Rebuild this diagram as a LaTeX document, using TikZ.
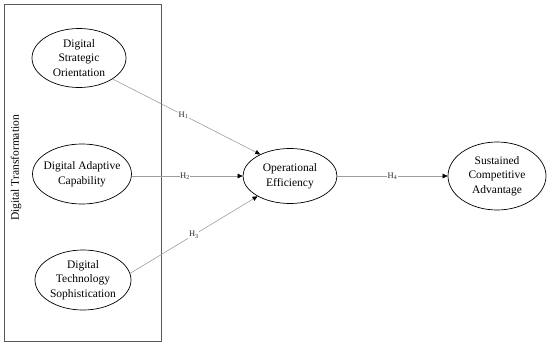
\documentclass[tikz,border=0pt]{standalone}
\usepackage{fontspec}
\setmainfont{Liberation Serif}
\usetikzlibrary{shapes.geometric,arrows.meta}
\begin{document}
\begin{tikzpicture}[x=1pt,y=-1pt,
  construct/.style={draw=black,line width=0.7pt,ellipse,inner xsep=-20pt,inner ysep=-10pt,align=center,
    font=\fontsize{11.5}{14.5}\selectfont},
  path/.style={draw=black!38,line width=0.6pt,-{Triangle[length=5pt,width=4.5pt,color=black]}},
  hlabel/.style={fill=white,inner sep=0.6pt,text=black!85,font=\fontsize{8.5}{10}\selectfont}]
\useasboundingbox (0,0) rectangle (550,346);
\node[draw=black!65,line width=0.9pt,minimum width=157pt,minimum height=337pt,inner sep=0pt] (box) at (82.5,172.5) {};
\node[rotate=90,font=\fontsize{11.5}{14}\selectfont] (dt) at (16,168) {Digital Transformation};
\node[construct,minimum width=94pt,minimum height=59pt] (dso) at (79,58) {Digital\\Strategic\\Orientation};
\node[construct,minimum width=99pt,minimum height=60pt] (dac) at (82,174) {Digital Adaptive\\Capability};
\node[construct,minimum width=96pt,minimum height=60pt] (dts) at (83,280) {Digital\\Technology\\Sophistication};
\node[construct,minimum width=94pt,minimum height=55pt] (oe) at (290,176) {Operational\\Efficiency};
\node[construct,minimum width=98pt,minimum height=68pt] (sca) at (497,176) {Sustained\\Competitive\\Advantage};
\draw[path] (dso.-32) -- node[hlabel,pos=0.48] (h1) {H\textsubscript{1}} (oe.144);
\draw[path] (dac.east|-oe.west) -- node[hlabel,pos=0.48] (h2) {H\textsubscript{2}} (oe.west);
\draw[path] (dts.8) -- node[hlabel,pos=0.5] (h3) {H\textsubscript{3}} (oe.212);
\draw[path] (oe.east) -- node[hlabel,pos=0.5] (h4) {H\textsubscript{4}} (sca.west);
\end{tikzpicture}
\end{document}
